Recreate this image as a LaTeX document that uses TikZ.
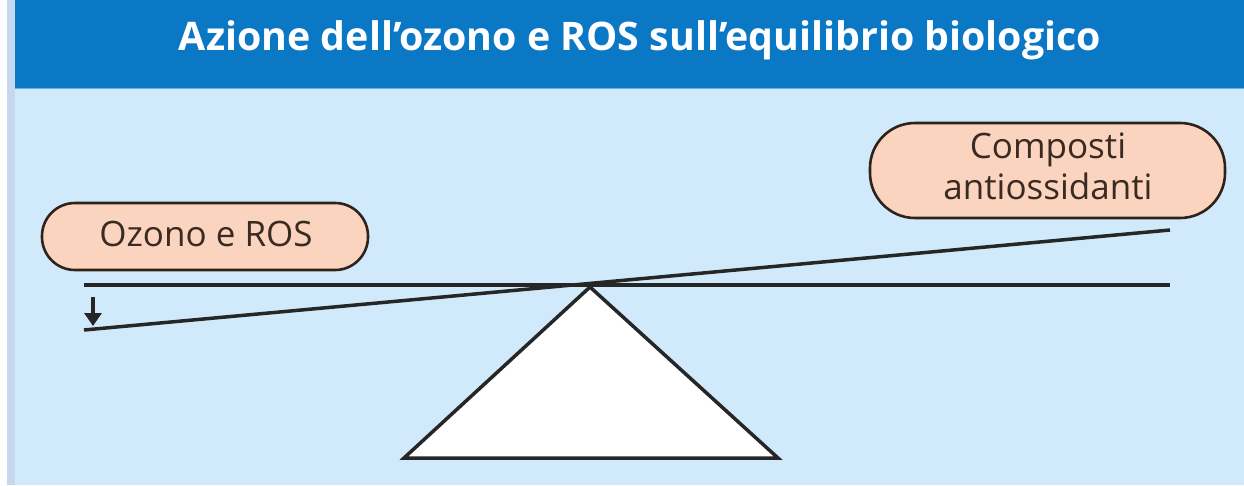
\documentclass[tikz,border=0pt]{standalone}
\usepackage{fontspec}
\setmainfont{Open Sans}
\usetikzlibrary{arrows.meta}
\definecolor{headblue}{HTML}{0B78C6}
\definecolor{panelblue}{HTML}{D0EAFB}
\definecolor{stripblue}{HTML}{C6D8EE}
\definecolor{peach}{HTML}{FBD4C0}
\definecolor{ink}{HTML}{3A2A22}
\tikzset{
  pill/.style={draw=ink!80!black, line width=2.6pt, fill=peach},
  pilltext/.style={text=ink, align=center, font=\fontsize{35}{41}\selectfont},
  beam/.style={draw=black!85, line width=3.5pt},
}
\begin{document}
\begin{tikzpicture}[x=1pt,y=-1pt]
\useasboundingbox (0,0) rectangle (1244,485);
\fill[white] (0,0) rectangle (1244,485);
\fill[stripblue] (7,0) rectangle (15,485);
\fill[panelblue] (15,88) rectangle (1244,485);
\fill[headblue] (15,0) rectangle (1244,88);
\draw[headblue!60!white, line width=1pt] (15,88.5) -- (1244,88.5);
\node[text=white, anchor=base, inner sep=0pt, font=\bfseries\fontsize{36}{44}\selectfont] (title) at (640,50) {\resizebox{922pt}{!}{Azione dell’ozono e ROS sull’equilibrio biologico}};
% pills
\node[pill, minimum width=326pt, minimum height=67pt, rounded corners=33pt] (ozono) at (205,236.5) {};
\node[pilltext, anchor=base] (ozonotext) at (206,246) {Ozono e ROS};
\node[pill, minimum width=355pt, minimum height=95pt, rounded corners=45pt] (anti) at (1047.5,170.5) {};
\node[pilltext, anchor=base] (antitext1) at (1048,158) {Composti};
\node[pilltext, anchor=base] (antitext2) at (1048,199) {antiossidanti};
% fulcrum
\coordinate (apex) at (590,287);
\coordinate (bl) at (404,458);
\coordinate (br) at (778,458);
\filldraw[fill=white, draw=black!85, line width=3.5pt, line join=miter] (apex) -- (bl) -- (br) -- cycle;
% beams
\coordinate (hl) at (84,285);
\coordinate (hr) at (1170,285);
\coordinate (tl) at (84,330);
\coordinate (tr) at (1170,230);
\draw[beam] (hl) -- (hr);
\draw[beam] (tl) -- (tr);
% arrow
\coordinate (a1) at (93,297);
\coordinate (a2) at (93,326);
\draw[line width=4.5pt, draw=black!85, -{Triangle[length=13pt,width=17pt]}] (a1) -- (a2);
\end{tikzpicture}
\end{document}
